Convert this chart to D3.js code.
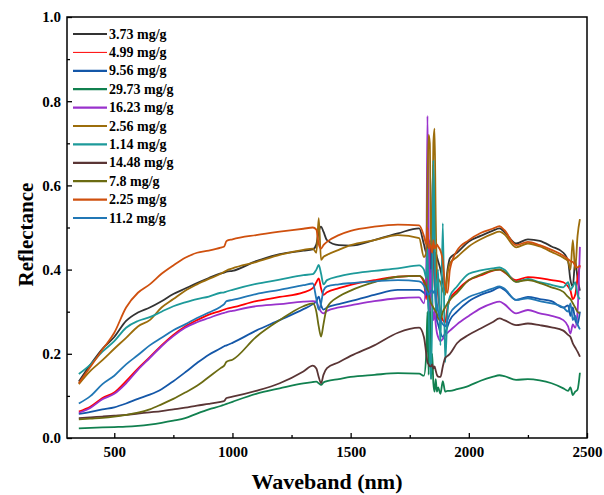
<!DOCTYPE html>
<html>
<head>
<meta charset="utf-8">
<script src="https://cdn.jsdelivr.net/npm/d3@7"></script>
<style>
  html, body { margin: 0; padding: 0; background: #fff; }
  svg { display: block; }
  text { font-family: "Liberation Serif", "Times New Roman", serif; font-weight: bold; fill: #000; }
</style>
</head>
<body>
<svg id="chart" width="604" height="495"></svg>
<script>
// Wavelength grid (nm) shared by every spectrum
const wavelengths = [350, 400, 450, 500, 550, 600, 650, 700, 750, 800,
  850, 900, 950, 965, 975, 1000, 1100, 1200, 1300, 1340,
  1355, 1365, 1375, 1385, 1400, 1450, 1500, 1600, 1700, 1790,
  1810, 1820, 1825, 1830, 1835, 1840, 1845, 1850, 1855, 1860,
  1865, 1870, 1880, 1890, 1900, 1910, 1920, 1950, 2000, 2050,
  2100, 2130, 2150, 2200, 2250, 2300, 2350, 2400, 2420, 2430,
  2440, 2450, 2460, 2470];

// Reflectance spectra, one per sample content
const r373 = [0.134, 0.175, 0.212, 0.240, 0.278, 0.298, 0.310, 0.325, 0.342, 0.355,
  0.368, 0.380, 0.391, 0.393, 0.395, 0.397, 0.420, 0.437, 0.445, 0.448,
  0.460, 0.490, 0.502, 0.490, 0.470, 0.458, 0.457, 0.470, 0.486, 0.498,
  0.460, 0.440, 0.470, 0.440, 0.430, 0.460, 0.440, 0.450, 0.430, 0.440,
  0.430, 0.420, 0.400, 0.370, 0.350, 0.400, 0.427, 0.440, 0.467, 0.480,
  0.492, 0.498, 0.490, 0.462, 0.472, 0.468, 0.455, 0.440, 0.420, 0.375,
  0.360, 0.420, 0.380, 0.350];
const r499 = [0.063, 0.075, 0.095, 0.108, 0.135, 0.165, 0.192, 0.220, 0.245, 0.265,
  0.280, 0.293, 0.302, 0.305, 0.307, 0.310, 0.325, 0.335, 0.346, 0.356,
  0.370, 0.379, 0.355, 0.340, 0.346, 0.356, 0.364, 0.375, 0.383, 0.385,
  0.370, 0.330, 0.420, 0.350, 0.470, 0.380, 0.350, 0.420, 0.440, 0.410,
  0.380, 0.340, 0.300, 0.280, 0.275, 0.310, 0.330, 0.350, 0.375, 0.386,
  0.397, 0.400, 0.394, 0.375, 0.382, 0.380, 0.375, 0.370, 0.360, 0.350,
  0.330, 0.340, 0.380, 0.410];
const r956 = [0.057, 0.062, 0.068, 0.073, 0.082, 0.093, 0.103, 0.116, 0.135, 0.156,
  0.178, 0.198, 0.213, 0.218, 0.220, 0.226, 0.255, 0.280, 0.306, 0.318,
  0.325, 0.336, 0.315, 0.305, 0.310, 0.318, 0.325, 0.340, 0.352, 0.352,
  0.345, 0.340, 0.360, 0.300, 0.350, 0.400, 0.550, 0.650, 0.400, 0.320,
  0.280, 0.270, 0.250, 0.240, 0.250, 0.265, 0.280, 0.300, 0.325, 0.340,
  0.350, 0.358, 0.352, 0.328, 0.335, 0.330, 0.325, 0.310, 0.315, 0.290,
  0.310, 0.280, 0.270, 0.300];
const r2973 = [0.023, 0.024, 0.025, 0.026, 0.027, 0.029, 0.032, 0.036, 0.041, 0.047,
  0.058, 0.068, 0.076, 0.079, 0.081, 0.086, 0.105, 0.118, 0.130, 0.133,
  0.134, 0.130, 0.126, 0.132, 0.135, 0.140, 0.145, 0.150, 0.154, 0.153,
  0.148, 0.200, 0.300, 0.150, 0.360, 0.140, 0.200, 0.130, 0.110, 0.140,
  0.110, 0.120, 0.105, 0.135, 0.110, 0.112, 0.112, 0.116, 0.124, 0.136,
  0.145, 0.149, 0.147, 0.138, 0.140, 0.137, 0.130, 0.118, 0.112, 0.120,
  0.102, 0.110, 0.115, 0.155];
const r1623 = [0.060, 0.072, 0.092, 0.105, 0.130, 0.162, 0.190, 0.218, 0.242, 0.262,
  0.275, 0.285, 0.295, 0.297, 0.299, 0.302, 0.313, 0.318, 0.324, 0.325,
  0.323, 0.310, 0.300, 0.296, 0.302, 0.310, 0.315, 0.325, 0.332, 0.334,
  0.320, 0.400, 0.765, 0.500, 0.300, 0.400, 0.330, 0.280, 0.300, 0.270,
  0.250, 0.240, 0.230, 0.235, 0.245, 0.250, 0.255, 0.270, 0.290, 0.308,
  0.320, 0.324, 0.318, 0.296, 0.304, 0.296, 0.290, 0.280, 0.265, 0.248,
  0.270, 0.262, 0.300, 0.454];
const r256 = [0.128, 0.160, 0.185, 0.212, 0.238, 0.265, 0.280, 0.310, 0.330, 0.350,
  0.365, 0.378, 0.390, 0.395, 0.398, 0.403, 0.418, 0.435, 0.447, 0.450,
  0.440, 0.522, 0.423, 0.430, 0.435, 0.447, 0.458, 0.470, 0.482, 0.475,
  0.430, 0.440, 0.600, 0.720, 0.700, 0.450, 0.500, 0.700, 0.735, 0.520,
  0.400, 0.380, 0.370, 0.350, 0.340, 0.390, 0.415, 0.430, 0.455, 0.472,
  0.485, 0.490, 0.484, 0.453, 0.462, 0.455, 0.442, 0.428, 0.420, 0.400,
  0.470, 0.400, 0.480, 0.520];
const r114 = [0.152, 0.175, 0.205, 0.230, 0.262, 0.278, 0.287, 0.300, 0.313, 0.322,
  0.330, 0.336, 0.345, 0.346, 0.348, 0.352, 0.366, 0.376, 0.387, 0.389,
  0.400, 0.411, 0.390, 0.365, 0.375, 0.384, 0.390, 0.397, 0.403, 0.410,
  0.400, 0.380, 0.450, 0.300, 0.200, 0.140, 0.300, 0.660, 0.500, 0.300,
  0.360, 0.400, 0.220, 0.510, 0.180, 0.300, 0.336, 0.360, 0.390, 0.398,
  0.403, 0.405, 0.400, 0.371, 0.378, 0.370, 0.364, 0.358, 0.370, 0.352,
  0.360, 0.370, 0.340, 0.330];
const r1448 = [0.047, 0.049, 0.051, 0.053, 0.055, 0.058, 0.061, 0.064, 0.068, 0.072,
  0.077, 0.081, 0.086, 0.088, 0.095, 0.098, 0.112, 0.130, 0.158, 0.172,
  0.165, 0.145, 0.130, 0.150, 0.166, 0.180, 0.195, 0.220, 0.250, 0.262,
  0.240, 0.200, 0.180, 0.175, 0.170, 0.170, 0.175, 0.165, 0.170, 0.160,
  0.150, 0.146, 0.145, 0.170, 0.190, 0.195, 0.200, 0.225, 0.245, 0.260,
  0.275, 0.284, 0.280, 0.268, 0.272, 0.268, 0.263, 0.255, 0.245, 0.240,
  0.225, 0.215, 0.205, 0.193];
const r78 = [0.044, 0.046, 0.048, 0.051, 0.055, 0.060, 0.068, 0.080, 0.093, 0.108,
  0.124, 0.145, 0.166, 0.172, 0.181, 0.186, 0.240, 0.280, 0.313, 0.320,
  0.300, 0.265, 0.241, 0.270, 0.310, 0.336, 0.350, 0.370, 0.383, 0.385,
  0.375, 0.360, 0.350, 0.345, 0.330, 0.320, 0.315, 0.310, 0.305, 0.300,
  0.295, 0.285, 0.280, 0.300, 0.310, 0.320, 0.328, 0.345, 0.375, 0.388,
  0.398, 0.400, 0.395, 0.371, 0.375, 0.368, 0.358, 0.347, 0.335, 0.330,
  0.320, 0.310, 0.300, 0.296];
const r225 = [0.130, 0.170, 0.210, 0.250, 0.310, 0.345, 0.365, 0.390, 0.410, 0.428,
  0.440, 0.445, 0.452, 0.455, 0.468, 0.472, 0.482, 0.490, 0.497, 0.500,
  0.495, 0.460, 0.450, 0.458, 0.466, 0.482, 0.492, 0.502, 0.507, 0.505,
  0.480, 0.460, 0.500, 0.450, 0.460, 0.455, 0.440, 0.470, 0.450, 0.455,
  0.460, 0.455, 0.445, 0.420, 0.360, 0.345, 0.400, 0.445, 0.470, 0.487,
  0.497, 0.503, 0.494, 0.458, 0.466, 0.458, 0.447, 0.433, 0.425, 0.420,
  0.418, 0.410, 0.405, 0.410];
const r112 = [0.082, 0.100, 0.128, 0.148, 0.175, 0.197, 0.220, 0.238, 0.256, 0.270,
  0.285, 0.298, 0.312, 0.318, 0.325, 0.328, 0.342, 0.352, 0.363, 0.367,
  0.330, 0.305, 0.320, 0.350, 0.360, 0.365, 0.368, 0.372, 0.375, 0.372,
  0.362, 0.350, 0.345, 0.340, 0.345, 0.350, 0.350, 0.345, 0.350, 0.340,
  0.320, 0.300, 0.280, 0.270, 0.265, 0.280, 0.295, 0.315, 0.335, 0.345,
  0.355, 0.360, 0.355, 0.328, 0.332, 0.325, 0.320, 0.310, 0.300, 0.320,
  0.280, 0.290, 0.270, 0.258];

// Legend labels and colours, in drawing order
const labels = ["3.73 mg/g", "4.99 mg/g", "9.56 mg/g", "29.73 mg/g", "16.23 mg/g",
  "2.56 mg/g", "1.14 mg/g", "14.48 mg/g", "7.8 mg/g", "2.25 mg/g", "11.2 mg/g"];
const colors = ["#333333", "#ff0000", "#1457a8", "#11804f", "#9932cc",
  "#9c6d0b", "#1d9a9a", "#5a3535", "#6b6b12", "#cf500e", "#2177b5"];
const spectra = [r373, r499, r956, r2973, r1623, r256, r114, r1448, r78, r225, r112];

// Axis ticks
const xTicks = [500, 1000, 1500, 2000, 2500];
const xMinor = [750, 1250, 1750, 2250];
const yTicks = [0, 0.2, 0.4, 0.6, 0.8, 1.0];
const yMinor = [0.1, 0.3, 0.5, 0.7, 0.9];

const margin = { left: 67, top: 17, right: 17, bottom: 57 };
const W = 604, H = 495;
const iw = W - margin.left - margin.right;
const ih = H - margin.top - margin.bottom;

const svg = d3.select("#chart");
const g = svg.append("g").attr("transform", `translate(${margin.left},${margin.top})`);

const x = d3.scaleLinear().domain([300, 2500]).range([0, iw]);
const y = d3.scaleLinear().domain([0, 1.0]).range([ih, 0]);

// Spectra
const line = d3.line().x((d, i) => x(wavelengths[i])).y(d => y(d)).curve(d3.curveMonotoneX);
g.append("g").selectAll("path")
  .data(spectra)
  .join("path")
  .attr("d", d => line(d))
  .attr("fill", "none")
  .attr("stroke", (d, i) => colors[i])
  .attr("stroke-width", 1.8)
  .attr("stroke-linejoin", "round");

// Axes with inward ticks
const xAxis = g.append("g").attr("transform", `translate(0,${ih})`)
  .call(d3.axisBottom(x).tickValues(xTicks).tickFormat(d3.format("d"))
    .tickSizeInner(-5).tickSizeOuter(0).tickPadding(8));
xAxis.select(".domain").remove();
xAxis.selectAll("text").style("font-size", "15px");
xAxis.selectAll("line").attr("stroke-width", 1.3);

const xMinorG = g.append("g").attr("transform", `translate(0,${ih})`)
  .call(d3.axisBottom(x).tickValues(xMinor).tickFormat("").tickSizeInner(-3).tickSizeOuter(0));
xMinorG.select(".domain").remove();
xMinorG.selectAll("line").attr("stroke-width", 1.3);

const yAxis = g.append("g")
  .call(d3.axisLeft(y).tickValues(yTicks).tickFormat(d3.format(".1f"))
    .tickSizeInner(-5).tickSizeOuter(0).tickPadding(6));
yAxis.select(".domain").remove();
yAxis.selectAll("text").style("font-size", "15px");
yAxis.selectAll("line").attr("stroke-width", 1.3);

const yMinorG = g.append("g")
  .call(d3.axisLeft(y).tickValues(yMinor).tickFormat("").tickSizeInner(-3).tickSizeOuter(0));
yMinorG.select(".domain").remove();
yMinorG.selectAll("line").attr("stroke-width", 1.3);

// Plot frame
g.append("rect").attr("x", 0).attr("y", 0).attr("width", iw).attr("height", ih)
  .attr("fill", "none").attr("stroke", "#000").attr("stroke-width", 1.5);

// Axis titles
svg.append("text")
  .attr("x", 327).attr("y", 489)
  .attr("text-anchor", "middle").style("font-size", "22px")
  .text("Waveband (nm)");
svg.append("text")
  .attr("transform", `translate(33,${margin.top + ih / 2 + 7}) rotate(-90)`)
  .attr("text-anchor", "middle").style("font-size", "21px")
  .text("Reflectance");

// Legend
const legend = g.append("g").attr("transform", "translate(6,17)");
const rows = legend.selectAll("g").data(labels).join("g")
  .attr("transform", (d, i) => `translate(0,${i * 18.4})`);
rows.append("line")
  .attr("x1", 0).attr("x2", 34).attr("y1", 0).attr("y2", 0)
  .attr("stroke", (d, i) => colors[i])
  .attr("stroke-width", (d, i) => i === 1 ? 1 : 2.2);
rows.append("text")
  .attr("x", 36).attr("y", 0).attr("dy", "0.33em")
  .style("font-size", "14px")
  .text(d => d);
</script>
</body>
</html>
